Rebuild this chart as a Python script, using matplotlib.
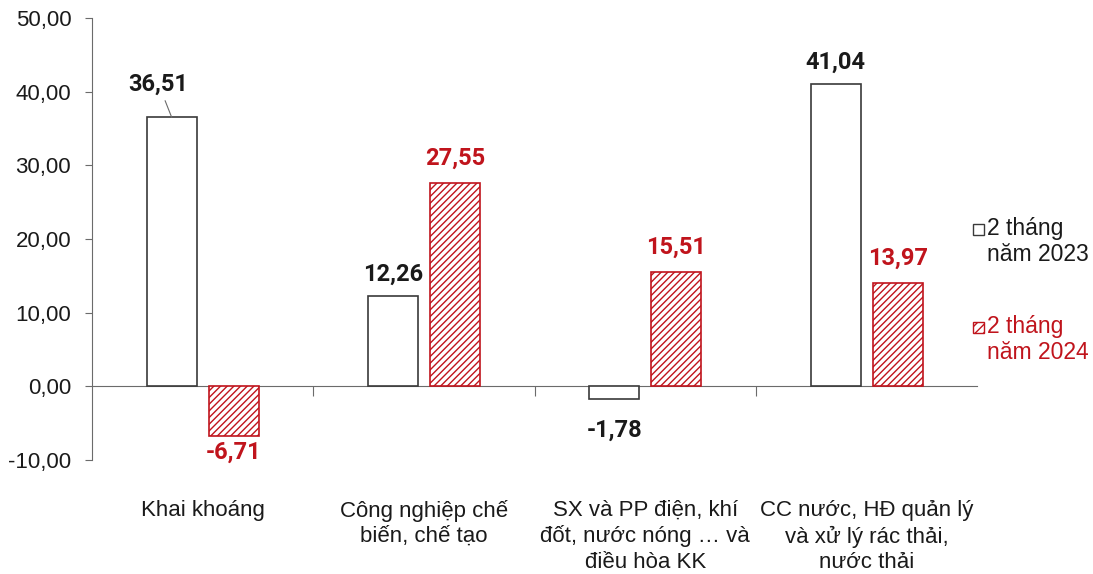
import numpy as np
import matplotlib.pyplot as plt
from matplotlib.patches import Rectangle
from matplotlib.transforms import blended_transform_factory

categories = ["Khai khoáng", "Công nghiệp chế\nbiến, chế tạo",
              "SX và PP điện, khí\nđốt, nước nóng … và\nđiều hòa KK",
              "CC nước, HĐ quản lý\nvà xử lý rác thải,\nnước thải"]
vals_2023 = [36.51, 12.26, -1.78, 41.04]
vals_2024 = [-6.71, 27.55, 15.51, 13.97]
series_names = ["2 tháng\nnăm 2023", "2 tháng\nnăm 2024"]
yticks = [-10, 0, 10, 20, 30, 40, 50]

RED = "#C0141C"
HATCH_RED = "#E8797C"
AXIS = "#6b6b6b"
TEXT = "#1a1a1a"

plt.rcParams['font.family'] = ['Liberation Sans', 'DejaVu Sans']
plt.rcParams['hatch.linewidth'] = 1.0

fig = plt.figure(figsize=(10.93, 5.74), dpi=100)
ax = fig.add_axes([0.0842, 0.1986, 0.81, 0.77])

x = np.arange(len(categories))
w = 0.226
off = 0.14

ax.bar(x - off, vals_2023, w, facecolor="white", edgecolor="#3a3a3a", linewidth=1.2, zorder=3)
plt.rcParams['hatch.color'] = HATCH_RED
ax.bar(x + off, vals_2024, w, facecolor="white", edgecolor=RED, linewidth=1.2,
       hatch="/////", zorder=3)

lab_font = dict(family=['Roboto', 'DejaVu Sans'], fontweight='bold', fontsize=17)

def fmt(v):
    return ("%.2f" % v).replace(".", ",")

for xi, v in zip(x - off, vals_2023):
    if v == vals_2023[0]:
        ax.annotate(fmt(v), xy=(xi, v), xytext=(xi - 0.06, v + 3.0), ha='center', va='bottom',
                    color=TEXT, arrowprops=dict(arrowstyle='-', color=AXIS, lw=0.8,
                                                shrinkA=2, shrinkB=0), **lab_font)
    elif v >= 0:
        ax.text(xi, v + 1.4, fmt(v), ha='center', va='bottom', color=TEXT, **lab_font)
    else:
        ax.text(xi, v - 2.6, fmt(v), ha='center', va='top', color=TEXT, **lab_font)

for xi, v in zip(x + off, vals_2024):
    if v >= 0:
        ax.text(xi, v + 1.8, fmt(v), ha='center', va='bottom', color=RED, **lab_font)
    else:
        ax.text(xi, v - 0.7, fmt(v), ha='center', va='top', color=RED, **lab_font)

ax.set_xlim(-0.5, len(categories) - 0.5)
ax.set_ylim(-10, 50)
ax.set_yticks(yticks)
ax.set_yticklabels([fmt(t) for t in yticks], fontsize=16, color=TEXT)

for s in ['top', 'right']:
    ax.spines[s].set_visible(False)
ax.spines['left'].set_color(AXIS)
ax.spines['bottom'].set_color(AXIS)
ax.spines['bottom'].set_position(('data', 0))
ax.tick_params(axis='y', colors=AXIS, length=5, direction='out', labelcolor=TEXT, pad=10)
ax.set_xticks(np.arange(0.5, len(categories) - 0.5, 1.0))
ax.set_xticklabels([])
ax.tick_params(axis='x', colors=AXIS, length=7, direction='out')

tr = blended_transform_factory(ax.transData, ax.transAxes)
for xi, c in zip(x, categories):
    ax.text(xi, -0.09, c, transform=tr, ha='center', va='top', fontsize=16,
            color=TEXT, linespacing=1.27)

# legend: small key square beside the first line of each two-line label
sq_w, sq_h = 11 / 1093, 11 / 574
legend_rows = [(0.579, 0.601, dict(facecolor='white', edgecolor='#3a3a3a'), TEXT),
               (0.4085, 0.430, dict(facecolor='white', edgecolor=RED, hatch='////'), RED)]
for name, (ty, sy, style, col) in zip(series_names, legend_rows):
    fig.patches.append(Rectangle((0.8905, sy - sq_h / 2), sq_w, sq_h, transform=fig.transFigure,
                                 linewidth=1.0, **style))
    fig.text(0.903, ty, name, ha='left', va='center', fontsize=16.5, color=col,
             linespacing=1.15)

fig.savefig("out.png", dpi=100)
